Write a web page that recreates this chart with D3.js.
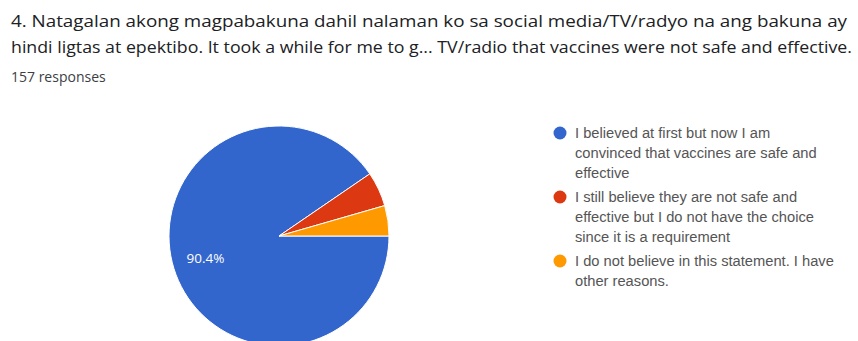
<!DOCTYPE html>
<html><head><meta charset="utf-8">
<script src="https://cdn.jsdelivr.net/npm/d3@7"></script>
<style>body{margin:0;background:#fff;}svg{display:block;}</style>
</head><body>
<svg id="chart" width="858" height="341"></svg>
<script>
const titleLines = [
  "4. Natagalan akong magpabakuna dahil nalaman ko sa social media/TV/radyo na ang bakuna ay",
  "hindi ligtas at epektibo. It took a while for me to g... TV/radio that vaccines were not safe and effective."
];
const titleWidths = [836, 841];
const subtitle = "157 responses";
const categories = [
  ["I believed at first but now I am", "convinced that vaccines are safe and", "effective"],
  ["I still believe they are not safe and", "effective but I do not have the choice", "since it is a requirement"],
  ["I do not believe in this statement. I have", "other reasons."]
];
const counts = [142, 8, 7];
const colors = ["#3366cc", "#dc3912", "#ff9900"];

const FONT = "'Open Sans', Roboto, sans-serif";
const LFONT = "'Liberation Sans', Arial, sans-serif";
const svg = d3.select("#chart");
svg.append("g").selectAll("text").data(titleLines).join("text")
  .attr("x", 11).attr("y", (d,i) => 27 + i*26)
  .attr("font-family", FONT).attr("font-size", 17.2)
  .attr("textLength", (d,i) => titleWidths[i]).attr("lengthAdjust", "spacingAndGlyphs")
  .attr("fill", "#202124").text(d => d);
svg.append("text").attr("x", 11).attr("y", 82)
  .attr("font-family", FONT).attr("font-size", 14)
  .attr("fill", "#3c4043").text(subtitle);

const cx = 279, cy = 236, r = 110;
const total = d3.sum(counts);
const pie = d3.pie().sort(null).startAngle(Math.PI/2).endAngle(Math.PI/2 + 2*Math.PI);
const arc = d3.arc().innerRadius(0).outerRadius(r);
const arcs = pie(counts);
const g = svg.append("g").attr("transform", `translate(${cx},${cy})`);
g.selectAll("path").data(arcs).join("path")
  .attr("d", arc).attr("fill", (d,i) => colors[i])
  .attr("stroke", "#fff").attr("stroke-width", 1);
const labelArc = d3.arc().innerRadius(r*0.7).outerRadius(r*0.7);
g.selectAll("text.lab").data(arcs.filter(d => d.data/total > 0.06)).join("text")
  .attr("class","lab")
  .attr("x", d => labelArc.centroid(d)[0]).attr("y", d => labelArc.centroid(d)[1])
  .attr("text-anchor","middle").attr("dy","0.35em")
  .attr("font-family",FONT).attr("font-size", 13.5).attr("fill","#fff")
  .text(d => (d.data/total*100).toFixed(1) + "%");

const lg = svg.append("g").attr("transform", "translate(560,133)");
let yy = 0;
categories.forEach((lines, i) => {
  const item = lg.append("g").attr("transform", `translate(0,${yy})`);
  item.append("circle").attr("cx", 0).attr("cy", 0).attr("r", 6.5).attr("fill", colors[i]);
  item.selectAll("text").data(lines).join("text")
    .attr("x", 15).attr("y", (d,j) => j*20).attr("dy", "0.35em")
    .attr("font-family", LFONT).attr("font-size", 14.7)
    .attr("fill", "#555").text(d => d);
  yy += lines.length*20 + 4;
});
</script>
</body></html>
